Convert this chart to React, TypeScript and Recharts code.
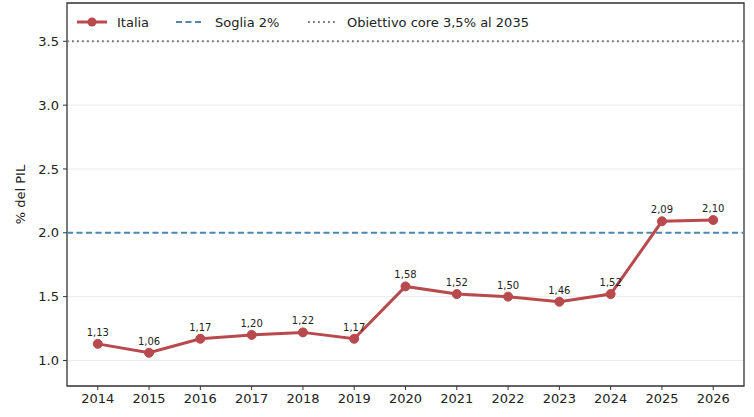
import React from 'react';
import { LineChart, Line, XAxis, YAxis, CartesianGrid, ReferenceLine, ReferenceArea, LabelList } from 'recharts';

const YEARS = [2014, 2015, 2016, 2017, 2018, 2019, 2020, 2021, 2022, 2023, 2024, 2025, 2026];
const ITALIA = [1.13, 1.06, 1.17, 1.2, 1.22, 1.17, 1.58, 1.52, 1.5, 1.46, 1.52, 2.09, 2.1];
const Y_TICKS = [1.0, 1.5, 2.0, 2.5, 3.0, 3.5];
const SOGLIA = 2.0;
const OBIETTIVO = 3.5;
const LEGEND_LABELS = ['Italia', 'Soglia 2%', 'Obiettivo core 3,5% al 2035'];

const W = 754;
const H = 417;
const FONT = '"DejaVu Sans", sans-serif';
const RED = '#b8494c';
const BLUE = '#4d87b3';
const GRAY = '#777777';
const INK = '#222222';
const SPINE = '#333333';

const data = YEARS.map((year, i) => ({ year, value: ITALIA[i] }));

const fmtComma = (v: number) => v.toFixed(2).replace('.', ',');

// legend sits inside the plot frame, top-left, no box
const LegendBox: React.FC = () => (
  <svg width={560} height={26} style={{ position: 'absolute', left: 77, top: 9, display: 'block' }}>
    <g fontFamily={FONT} fontSize={13} fill={INK}>
      <line x1={0} x2={30} y1={13} y2={13} stroke={RED} strokeWidth={3} />
      <circle cx={15} cy={13} r={4.5} fill={RED} />
      <text x={40} y={13} dominantBaseline="central">{LEGEND_LABELS[0]}</text>
      <line x1={99} x2={127} y1={13} y2={13} stroke={BLUE} strokeWidth={2} strokeDasharray="6 3.5" />
      <text x={138} y={13} dominantBaseline="central">{LEGEND_LABELS[1]}</text>
      <line x1={231} x2={259} y1={13} y2={13} stroke={GRAY} strokeWidth={2} strokeDasharray="1.8 3.2" />
      <text x={270} y={13} dominantBaseline="central">{LEGEND_LABELS[2]}</text>
    </g>
  </svg>
);

export default function App() {
  return (
    <div style={{ position: 'absolute', left: 0, top: 0, width: W, height: H, background: '#fff' }}>
      <LineChart width={W} height={H} data={data} margin={{ top: 3, right: 10, bottom: 0, left: 0 }}>
        <CartesianGrid vertical={false} stroke="#ebebeb" strokeWidth={1} />
        <XAxis
          dataKey="year"
          type="number"
          domain={[2013.4, 2026.6]}
          ticks={YEARS}
          allowDataOverflow
          height={31}
          axisLine={false}
          tickSize={4}
          tickMargin={4}
          tickLine={{ stroke: SPINE }}
          tick={{ fontSize: 13, fill: INK, fontFamily: FONT }}
        />
        <YAxis
          type="number"
          domain={[0.8, 3.8]}
          ticks={Y_TICKS}
          allowDataOverflow
          width={67}
          axisLine={false}
          tickSize={4}
          tickMargin={4}
          tickLine={{ stroke: SPINE }}
          tickFormatter={(v: number) => v.toFixed(1)}
          tick={{ fontSize: 13, fill: INK, fontFamily: FONT }}
          label={{
            content: (p: any) => {
              const vb = p.viewBox || {};
              const cy = (vb.y ?? 0) + (vb.height ?? 0) / 2;
              return (
                <text x={20} y={cy} transform={`rotate(-90 20 ${cy})`} textAnchor="middle" dominantBaseline="central" fontSize={13} fill={INK} fontFamily={FONT}>
                  % del PIL
                </text>
              );
            },
          }}
        />
        <ReferenceArea x1={2013.4} x2={2026.6} y1={0.8} y2={3.8} fill="none" stroke={SPINE} strokeWidth={1.3} ifOverflow="visible" />
        <ReferenceLine y={OBIETTIVO} stroke={GRAY} strokeWidth={2} strokeDasharray="1.8 3.2" />
        <ReferenceLine y={SOGLIA} stroke={BLUE} strokeWidth={2} strokeDasharray="6 3.5" />
        <Line
          type="linear"
          dataKey="value"
          stroke={RED}
          strokeWidth={3}
          dot={{ r: 4.5, fill: RED, stroke: RED, strokeWidth: 1 }}
          activeDot={false}
          isAnimationActive={false}
        >
          <LabelList dataKey="value" position="top" offset={8} formatter={(v: any) => fmtComma(Number(v))} style={{ fontSize: 10, fill: INK, fontFamily: FONT }} />
        </Line>
      </LineChart>
      <LegendBox />
    </div>
  );
}
